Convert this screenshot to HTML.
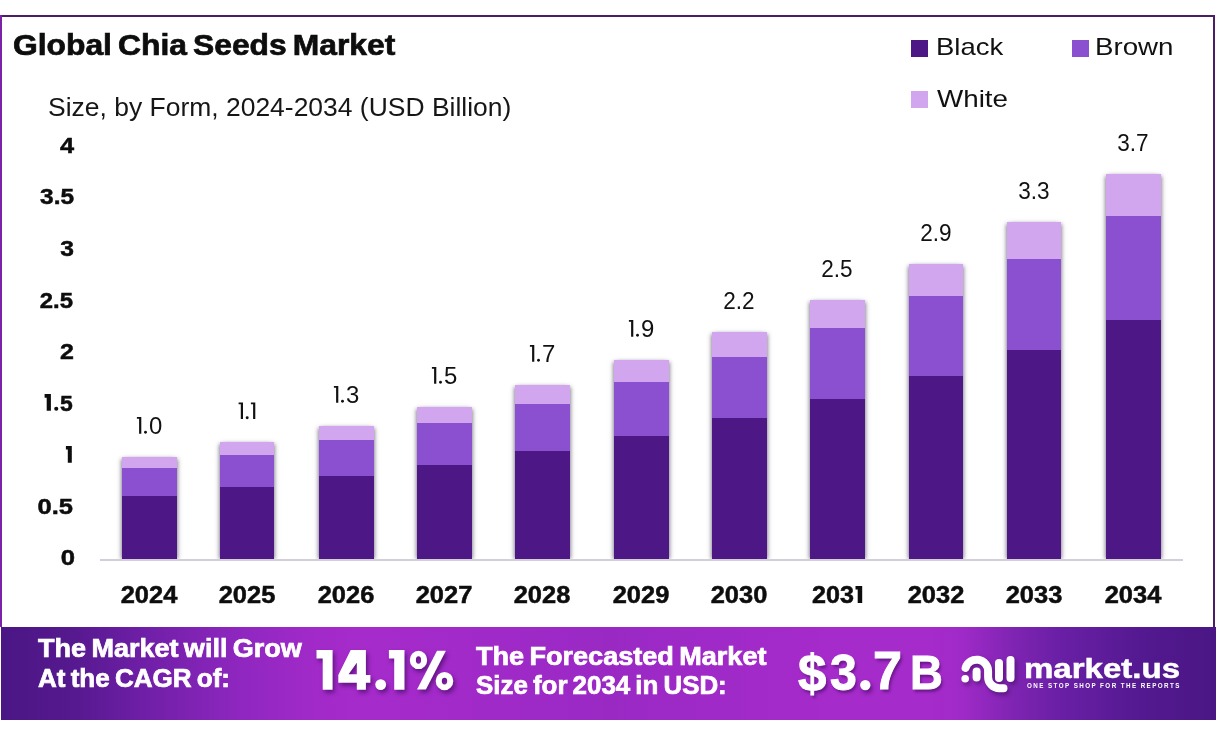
<!DOCTYPE html>
<html><head><meta charset="utf-8"><style>
html,body{margin:0;padding:0;}
body{width:1216px;height:735px;position:relative;overflow:hidden;background:#fff;font-family:"Liberation Sans",sans-serif;}
.t{position:absolute;white-space:nowrap;line-height:1;}
.c{text-align:center;}
.r{text-align:right;}
.bar{position:absolute;box-shadow:2px 1px 4px -1px rgba(40,30,55,0.5),-2px 1px 4px -1px rgba(40,30,55,0.5);}
#banner{position:absolute;left:1px;top:627px;width:1215px;height:93px;
background:linear-gradient(90deg,#4a1684 0%,#56198f 6%,#701fa8 12%,#9027c0 20%,#a22ac8 26%,#a62bcb 30%,#9a29c4 50%,#a62bcb 70%,#a62bcb 76%,#a02ac8 79%,#7e24b2 83.5%,#6a1fa6 87%,#531990 94%,#4a1684 100%);}
</style></head><body>
<div style="position:absolute;left:0;top:15px;width:1215px;height:2px;background:#4d1e66"></div>
<div style="position:absolute;left:0;top:15px;width:2px;height:612px;background:#7a22a8"></div>
<div style="position:absolute;left:1213px;top:15px;width:2px;height:612px;background:#4d1e66"></div>
<div id="k_title" class="t" style="left:12.91px;top:30.95px;font-size:29px;font-weight:700;color:#0d0d0d;transform:scale(1.0963,1.0000);transform-origin:0 0;word-spacing:-2.5px;-webkit-text-stroke:0.7px #0d0d0d;">Global Chia Seeds Market</div>
<div id="k_sub" class="t" style="left:47.72px;top:94.11px;font-size:25.5px;font-weight:400;color:#161616;transform:scale(1.0379,1.0300);transform-origin:0 0;">Size, by Form, 2024-2034 (USD Billion)</div>
<div style="position:absolute;left:911px;top:40px;width:17px;height:17px;background:#4e1786"></div>
<div style="position:absolute;left:1072px;top:40px;width:17px;height:17px;background:#8a50cf"></div>
<div style="position:absolute;left:911px;top:91px;width:17px;height:17px;background:#d2a6ee"></div>
<div id="k_lg_black" class="t" style="left:935.71px;top:34.88px;font-size:24px;font-weight:400;color:#111;transform:scale(1.1459,1.0000);transform-origin:0 0;">Black</div>
<div id="k_lg_brown" class="t" style="left:1094.69px;top:34.88px;font-size:24px;font-weight:400;color:#111;transform:scale(1.1538,1.0000);transform-origin:0 0;">Brown</div>
<div id="k_lg_white" class="t" style="left:937.00px;top:86.68px;font-size:24px;font-weight:400;color:#111;transform:scale(1.1569,1.0000);transform-origin:0 0;">White</div>
<div id="k_y0" class="t r" style="left:-524.86px;width:600px;top:547.25px;font-size:22.5px;font-weight:700;color:#0d0d0d;transform:scale(1.1400,1.0000);transform-origin:100% 0;-webkit-text-stroke:0.5px #0d0d0d;">0</div>
<div id="k_y1" class="t r" style="left:-526.54px;width:600px;top:495.70px;font-size:22.5px;font-weight:700;color:#0d0d0d;transform:scale(1.1347,1.0000);transform-origin:100% 0;-webkit-text-stroke:0.5px #0d0d0d;">0.5</div>
<svg style="position:absolute;left:0;top:0" width="1216" height="735" viewBox="0 0 1216 735"><path fill="#0d0d0d" d="M65.9 446.1H71.8V462.7H67.8V449.6H65.9Z"/></svg>
<svg style="position:absolute;left:0;top:0" width="1216" height="735" viewBox="0 0 1216 735"><g fill="#0d0d0d"><path d="M44.6 394.1H50.9V410.8H46.7V397.7H44.6Z"/><circle cx="56.25" cy="408.8" r="2.05"/></g></svg>
<div id="k_y3d" class="t" style="left:60.28px;top:393.20px;font-size:22.5px;font-weight:700;color:#0d0d0d;transform:scale(1.0194,1.0000);transform-origin:0 0;-webkit-text-stroke:0.5px #0d0d0d;">5</div>
<div id="k_y4" class="t r" style="left:-525.59px;width:600px;top:341.05px;font-size:22.5px;font-weight:700;color:#0d0d0d;transform:scale(1.1115,1.0000);transform-origin:100% 0;-webkit-text-stroke:0.5px #0d0d0d;">2</div>
<div id="k_y5" class="t r" style="left:-526.59px;width:600px;top:289.50px;font-size:22.5px;font-weight:700;color:#0d0d0d;transform:scale(1.0615,1.0000);transform-origin:100% 0;-webkit-text-stroke:0.5px #0d0d0d;">2.5</div>
<div id="k_y6" class="t r" style="left:-525.60px;width:600px;top:237.95px;font-size:22.5px;font-weight:700;color:#0d0d0d;transform:scale(1.0944,1.0000);transform-origin:100% 0;-webkit-text-stroke:0.5px #0d0d0d;">3</div>
<div id="k_y7" class="t r" style="left:-525.87px;width:600px;top:186.40px;font-size:22.5px;font-weight:700;color:#0d0d0d;transform:scale(1.0852,1.0000);transform-origin:100% 0;-webkit-text-stroke:0.5px #0d0d0d;">3.5</div>
<div id="k_y8" class="t r" style="left:-525.88px;width:600px;top:134.85px;font-size:22.5px;font-weight:700;color:#0d0d0d;transform:scale(1.1281,1.0000);transform-origin:100% 0;-webkit-text-stroke:0.5px #0d0d0d;">4</div>
<div class="bar" style="left:122.0px;top:457.0px;width:54.6px;height:102.0px"><div style="position:absolute;left:0;top:0;width:100%;height:11.0px;background:#d2a6ee"></div><div style="position:absolute;left:0;top:11.0px;width:100%;height:28.0px;background:#8a50cf"></div><div style="position:absolute;left:0;top:39.0px;width:100%;height:63.0px;background:#4e1786"></div></div>
<div id="k_vd2024" class="t" style="left:148.50px;top:414.88px;font-size:23px;font-weight:400;color:#111;transform:scale(1.0400,1.0000);transform-origin:0 0;">0</div>
<div id="k_x2024" class="t c" style="left:-151.00px;width:600px;top:582.68px;font-size:24px;font-weight:700;color:#0d0d0d;transform:scale(1.0600,1.0000);transform-origin:50% 0;-webkit-text-stroke:0.5px #0d0d0d;">2024</div>
<div class="bar" style="left:219.7px;top:442.4px;width:54.6px;height:116.6px"><div style="position:absolute;left:0;top:0;width:100%;height:12.6px;background:#d2a6ee"></div><div style="position:absolute;left:0;top:12.6px;width:100%;height:32.0px;background:#8a50cf"></div><div style="position:absolute;left:0;top:44.6px;width:100%;height:72.0px;background:#4e1786"></div></div>
<div id="k_x2025" class="t c" style="left:-53.30px;width:600px;top:582.68px;font-size:24px;font-weight:700;color:#0d0d0d;transform:scale(1.0600,1.0000);transform-origin:50% 0;-webkit-text-stroke:0.5px #0d0d0d;">2025</div>
<div class="bar" style="left:319.0px;top:426.0px;width:54.6px;height:133.0px"><div style="position:absolute;left:0;top:0;width:100%;height:14.0px;background:#d2a6ee"></div><div style="position:absolute;left:0;top:14.0px;width:100%;height:36.0px;background:#8a50cf"></div><div style="position:absolute;left:0;top:50.0px;width:100%;height:83.0px;background:#4e1786"></div></div>
<div id="k_vd2026" class="t" style="left:345.50px;top:383.88px;font-size:23px;font-weight:400;color:#111;transform:scale(1.0400,1.0000);transform-origin:0 0;">3</div>
<div id="k_x2026" class="t c" style="left:46.00px;width:600px;top:582.68px;font-size:24px;font-weight:700;color:#0d0d0d;transform:scale(1.0600,1.0000);transform-origin:50% 0;-webkit-text-stroke:0.5px #0d0d0d;">2026</div>
<div class="bar" style="left:417.0px;top:407.0px;width:54.6px;height:152.0px"><div style="position:absolute;left:0;top:0;width:100%;height:16.0px;background:#d2a6ee"></div><div style="position:absolute;left:0;top:16.0px;width:100%;height:42.0px;background:#8a50cf"></div><div style="position:absolute;left:0;top:58.0px;width:100%;height:94.0px;background:#4e1786"></div></div>
<div id="k_vd2027" class="t" style="left:443.50px;top:364.88px;font-size:23px;font-weight:400;color:#111;transform:scale(1.0400,1.0000);transform-origin:0 0;">5</div>
<div id="k_x2027" class="t c" style="left:144.00px;width:600px;top:582.68px;font-size:24px;font-weight:700;color:#0d0d0d;transform:scale(1.0600,1.0000);transform-origin:50% 0;-webkit-text-stroke:0.5px #0d0d0d;">2027</div>
<div class="bar" style="left:515.0px;top:385.0px;width:54.6px;height:174.0px"><div style="position:absolute;left:0;top:0;width:100%;height:19.0px;background:#d2a6ee"></div><div style="position:absolute;left:0;top:19.0px;width:100%;height:47.0px;background:#8a50cf"></div><div style="position:absolute;left:0;top:66.0px;width:100%;height:108.0px;background:#4e1786"></div></div>
<div id="k_vd2028" class="t" style="left:541.50px;top:342.88px;font-size:23px;font-weight:400;color:#111;transform:scale(1.0400,1.0000);transform-origin:0 0;">7</div>
<div id="k_x2028" class="t c" style="left:242.00px;width:600px;top:582.68px;font-size:24px;font-weight:700;color:#0d0d0d;transform:scale(1.0600,1.0000);transform-origin:50% 0;-webkit-text-stroke:0.5px #0d0d0d;">2028</div>
<div class="bar" style="left:614.0px;top:360.0px;width:54.6px;height:199.0px"><div style="position:absolute;left:0;top:0;width:100%;height:22.0px;background:#d2a6ee"></div><div style="position:absolute;left:0;top:22.0px;width:100%;height:54.0px;background:#8a50cf"></div><div style="position:absolute;left:0;top:76.0px;width:100%;height:123.0px;background:#4e1786"></div></div>
<div id="k_vd2029" class="t" style="left:640.50px;top:317.88px;font-size:23px;font-weight:400;color:#111;transform:scale(1.0400,1.0000);transform-origin:0 0;">9</div>
<div id="k_x2029" class="t c" style="left:341.00px;width:600px;top:582.68px;font-size:24px;font-weight:700;color:#0d0d0d;transform:scale(1.0600,1.0000);transform-origin:50% 0;-webkit-text-stroke:0.5px #0d0d0d;">2029</div>
<div class="bar" style="left:712.2px;top:332.0px;width:54.6px;height:227.0px"><div style="position:absolute;left:0;top:0;width:100%;height:25.0px;background:#d2a6ee"></div><div style="position:absolute;left:0;top:25.0px;width:100%;height:61.0px;background:#8a50cf"></div><div style="position:absolute;left:0;top:86.0px;width:100%;height:141.0px;background:#4e1786"></div></div>
<div id="k_v2030" class="t c" style="left:439.00px;width:600px;top:289.53px;font-size:23px;font-weight:400;color:#111;transform:scale(0.9800,1.0000);transform-origin:50% 0;">2.2</div>
<div id="k_x2030" class="t c" style="left:439.20px;width:600px;top:582.68px;font-size:24px;font-weight:700;color:#0d0d0d;transform:scale(1.0600,1.0000);transform-origin:50% 0;-webkit-text-stroke:0.5px #0d0d0d;">2030</div>
<div class="bar" style="left:810.0px;top:300.4px;width:54.6px;height:258.6px"><div style="position:absolute;left:0;top:0;width:100%;height:27.6px;background:#d2a6ee"></div><div style="position:absolute;left:0;top:27.6px;width:100%;height:71.0px;background:#8a50cf"></div><div style="position:absolute;left:0;top:98.6px;width:100%;height:160.0px;background:#4e1786"></div></div>
<div id="k_v2031" class="t c" style="left:536.80px;width:600px;top:257.93px;font-size:23px;font-weight:400;color:#111;transform:scale(0.9800,1.0000);transform-origin:50% 0;">2.5</div>
<div id="k_x2031a" class="t" style="left:812.38px;top:582.78px;font-size:24px;font-weight:700;color:#0d0d0d;transform:scale(1.0467,1.0000);transform-origin:0 0;-webkit-text-stroke:0.5px #0d0d0d;">203</div>
<div class="bar" style="left:908.7px;top:264.0px;width:54.6px;height:295.0px"><div style="position:absolute;left:0;top:0;width:100%;height:32.0px;background:#d2a6ee"></div><div style="position:absolute;left:0;top:32.0px;width:100%;height:80.0px;background:#8a50cf"></div><div style="position:absolute;left:0;top:112.0px;width:100%;height:183.0px;background:#4e1786"></div></div>
<div id="k_v2032" class="t c" style="left:635.50px;width:600px;top:221.53px;font-size:23px;font-weight:400;color:#111;transform:scale(0.9800,1.0000);transform-origin:50% 0;">2.9</div>
<div id="k_x2032" class="t c" style="left:635.70px;width:600px;top:582.68px;font-size:24px;font-weight:700;color:#0d0d0d;transform:scale(1.0600,1.0000);transform-origin:50% 0;-webkit-text-stroke:0.5px #0d0d0d;">2032</div>
<div class="bar" style="left:1006.7px;top:222.0px;width:54.6px;height:337.0px"><div style="position:absolute;left:0;top:0;width:100%;height:37.0px;background:#d2a6ee"></div><div style="position:absolute;left:0;top:37.0px;width:100%;height:90.7px;background:#8a50cf"></div><div style="position:absolute;left:0;top:127.7px;width:100%;height:209.3px;background:#4e1786"></div></div>
<div id="k_v2033" class="t c" style="left:733.50px;width:600px;top:179.53px;font-size:23px;font-weight:400;color:#111;transform:scale(0.9800,1.0000);transform-origin:50% 0;">3.3</div>
<div id="k_x2033" class="t c" style="left:733.70px;width:600px;top:582.68px;font-size:24px;font-weight:700;color:#0d0d0d;transform:scale(1.0600,1.0000);transform-origin:50% 0;-webkit-text-stroke:0.5px #0d0d0d;">2033</div>
<div class="bar" style="left:1106.0px;top:174.0px;width:54.6px;height:385.0px"><div style="position:absolute;left:0;top:0;width:100%;height:42.3px;background:#d2a6ee"></div><div style="position:absolute;left:0;top:42.3px;width:100%;height:103.7px;background:#8a50cf"></div><div style="position:absolute;left:0;top:146.0px;width:100%;height:239.0px;background:#4e1786"></div></div>
<div id="k_v2034" class="t c" style="left:832.80px;width:600px;top:131.53px;font-size:23px;font-weight:400;color:#111;transform:scale(0.9800,1.0000);transform-origin:50% 0;">3.7</div>
<div id="k_x2034" class="t c" style="left:833.00px;width:600px;top:582.68px;font-size:24px;font-weight:700;color:#0d0d0d;transform:scale(1.0600,1.0000);transform-origin:50% 0;-webkit-text-stroke:0.5px #0d0d0d;">2034</div>
<svg style="position:absolute;left:0;top:0" width="1216" height="735" viewBox="0 0 1216 735"><g fill="#111"><path d="M136.90 417.00H141.30V433.70H139.10V418.80H136.90Z"/><circle cx="145.50" cy="432.30" r="1.45"/><path d="M238.60 402.40H243.00V419.10H240.80V404.20H238.60Z"/><path d="M250.90 402.40H255.30V419.10H253.10V404.20H250.90Z"/><circle cx="247.20" cy="417.70" r="1.45"/><path d="M333.90 386.00H338.30V402.70H336.10V387.80H333.90Z"/><circle cx="342.50" cy="401.30" r="1.45"/><path d="M431.90 367.00H436.30V383.70H434.10V368.80H431.90Z"/><circle cx="440.50" cy="382.30" r="1.45"/><path d="M529.90 345.00H534.30V361.70H532.10V346.80H529.90Z"/><circle cx="538.50" cy="360.30" r="1.45"/><path d="M628.90 320.00H633.30V336.70H631.10V321.80H628.90Z"/><circle cx="637.50" cy="335.30" r="1.45"/><path fill="#0d0d0d" d="M855.5 586H862.2V602.9H857.7V589.5H855.5Z"/></g></svg>
<div style="position:absolute;left:100px;top:559px;width:1083px;height:1.5px;background:#d2cfd8"></div>
<div style="position:absolute;left:100px;top:560.5px;width:1083px;height:6px;background:#fff"></div>
<div id="banner"></div>
<div id="k_b1" class="t" style="left:37.53px;top:636.03px;font-size:25px;font-weight:700;color:#fff;transform:scale(1.0810,1.0000);transform-origin:0 0;word-spacing:-2px;-webkit-text-stroke:0.7px #fff;">The Market will Grow</div>
<div id="k_b2" class="t" style="left:37.57px;top:666.23px;font-size:25px;font-weight:700;color:#fff;transform:scale(1.0422,1.0000);transform-origin:0 0;word-spacing:-2px;-webkit-text-stroke:0.7px #fff;">At the CAGR of:</div>
<svg style="position:absolute;left:0;top:0;filter:drop-shadow(2.5px 3px 2px rgba(55,5,85,0.6))" width="1216" height="735" viewBox="0 0 1216 735">
<g fill="#fff">
<path d="M316.5 649.9H332.6V689.8H322.7V658.6H316.5Z"/>
<path fill-rule="evenodd" d="M350.7 649.9H365.9V675H370.4V682.8H365.9V689.8H356.8V682.8H338.3V675ZM356.8 662.7V674.2H348.6Z"/>
<circle cx="380.7" cy="684.6" r="5.4"/>
<path d="M388.9 649.9H404.5V689.8H394.2V658.6H388.9Z"/>
<path fill-rule="evenodd" d="M418.5 650.8A8.7 9.15 0 1 1 418.5 669.1A8.7 9.15 0 1 1 418.5 650.8ZM418.5 656.2A2.6 3.75 0 1 0 418.5 663.7A2.6 3.75 0 1 0 418.5 656.2Z"/>
<path d="M437 650.8H445.9L425.9 689.6H417Z"/>
<path fill-rule="evenodd" d="M444.5 671.9A8.8 9.15 0 1 1 444.5 690.2A8.8 9.15 0 1 1 444.5 671.9ZM444.5 677.7A2.7 3.4 0 1 0 444.5 684.5A2.7 3.4 0 1 0 444.5 677.7Z"/>
</g></svg>
<div id="k_b3" class="t" style="left:475.53px;top:644.33px;font-size:25px;font-weight:700;color:#fff;transform:scale(1.0826,1.0000);transform-origin:0 0;word-spacing:-2px;-webkit-text-stroke:0.7px #fff;">The Forecasted Market</div>
<div id="k_b4" class="t" style="left:475.78px;top:673.43px;font-size:25px;font-weight:700;color:#fff;transform:scale(1.0358,1.0000);transform-origin:0 0;word-spacing:-2px;-webkit-text-stroke:0.7px #fff;">Size for 2034 in USD:</div>
<div id="k_usdS" class="t" style="left:798.14px;top:646.41px;font-size:54px;font-weight:700;color:#fff;transform:scale(0.9446,0.9737);transform-origin:0 0;text-shadow:2px 3px 3px rgba(60,10,90,0.55);-webkit-text-stroke:1.0px #fff;">$</div>
<div id="k_usd3" class="t" style="left:829.50px;top:646.72px;font-size:54px;font-weight:700;color:#fff;transform:scale(0.8943,0.9393);transform-origin:0 0;text-shadow:2px 3px 3px rgba(60,10,90,0.55);-webkit-text-stroke:1.0px #fff;">3</div>
<div id="k_usd7" class="t" style="left:872.62px;top:644.39px;font-size:54px;font-weight:700;color:#fff;transform:scale(0.9645,0.9869);transform-origin:0 0;text-shadow:2px 3px 3px rgba(60,10,90,0.55);-webkit-text-stroke:1.0px #fff;">7</div>
<div id="k_usdB" class="t" style="left:910.43px;top:648.92px;font-size:54px;font-weight:700;color:#fff;transform:scale(0.8427,0.8771);transform-origin:0 0;text-shadow:2px 3px 3px rgba(60,10,90,0.55);-webkit-text-stroke:1.0px #fff;">B</div>
<svg style="position:absolute;left:0;top:0;filter:drop-shadow(2.5px 3px 2px rgba(55,5,85,0.6))" width="1216" height="735" viewBox="0 0 1216 735"><circle cx="865.3" cy="685.1" r="5.2" fill="#fff"/></svg>
<div id="k_mk" class="t" style="left:1024.33px;top:654.19px;font-size:32px;font-weight:700;color:#fff;transform:scale(1.0320,0.8715);transform-origin:0 0;-webkit-text-stroke:0.6px #fff;">market.us</div>
<div id="k_tag" class="t" style="left:1027.00px;top:682.07px;font-size:7px;font-weight:700;color:#fff;transform:scale(0.8924,1.0000);transform-origin:0 0;letter-spacing:1.6px;">ONE STOP SHOP FOR THE REPORTS</div>
<svg style="position:absolute;left:0;top:0;filter:drop-shadow(2px 3px 2px rgba(50,10,80,0.5))" width="1216" height="735" viewBox="0 0 1216 735">
<g fill="none" stroke="#fff" stroke-linecap="round" stroke-width="8">
<path d="M965.6 667.8 A11.5 11.5 0 0 1 988.1 671.1 L988.1 677 A11.2 11.2 0 0 0 999.3 688.2 L1003.5 688.2"/>
<path d="M976.6 671.5 L976.6 677.5"/>
<path d="M999 663 L999 678"/>
<path d="M1010.5 660 L1010.5 678"/>
</g>
<circle cx="965.2" cy="678.8" r="3.8" fill="#fff"/>
</svg>
</body></html>
